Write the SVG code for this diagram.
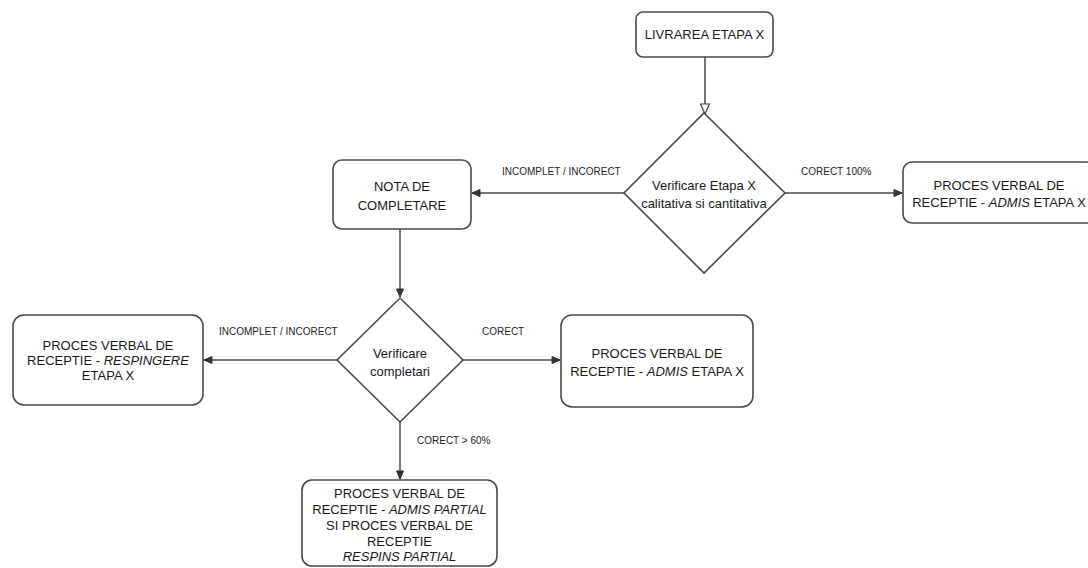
<svg xmlns="http://www.w3.org/2000/svg" width="1088" height="568" viewBox="0 0 1088 568">
<defs>
<marker id="arr" markerUnits="userSpaceOnUse" markerWidth="10" markerHeight="10" viewBox="0 0 10 10" refX="9" refY="5" orient="auto"><path d="M1,1.5 L9,5 L1,8.5 Z" fill="#333" stroke="#333" stroke-width="1"/></marker>
<marker id="open" markerUnits="userSpaceOnUse" markerWidth="12" markerHeight="12" viewBox="0 0 12 12" refX="11" refY="6" orient="auto"><path d="M1,1.5 L11,6 L1,10.5 Z" fill="#fff" stroke="#444" stroke-width="1.2"/></marker>
<style>
.box{fill:#fff;stroke:#4a4a4a;stroke-width:1.6}
.t{font-family:"Liberation Sans",Arial,sans-serif;font-size:13px;fill:#1a1a1a;text-anchor:middle}
.lbl{font-family:"Liberation Sans",Arial,sans-serif;font-size:10px;fill:#222}
.c{fill:none;stroke:#4a4a4a;stroke-width:1.5}
</style>
</defs>
<rect width="1088" height="568" fill="#fff"/>
<g id="connectors">
<line class="c" x1="705" y1="57" x2="705" y2="114" marker-end="url(#open)"/>
<line class="c" x1="624" y1="193" x2="472" y2="193" marker-end="url(#arr)"/>
<line class="c" x1="785" y1="193" x2="902" y2="193" marker-end="url(#arr)"/>
<line class="c" x1="400" y1="229" x2="400" y2="297" marker-end="url(#arr)"/>
<line class="c" x1="337" y1="360" x2="204" y2="360" marker-end="url(#arr)"/>
<line class="c" x1="463" y1="360" x2="560" y2="360" marker-end="url(#arr)"/>
<line class="c" x1="400" y1="422" x2="400" y2="479" marker-end="url(#arr)"/>
<text class="lbl" x="502" y="175">INCOMPLET / INCORECT</text>
<text class="lbl" x="801" y="175">CORECT 100%</text>
<text class="lbl" x="219" y="335">INCOMPLET / INCORECT</text>
<text class="lbl" x="482" y="335">CORECT</text>
<text class="lbl" x="417" y="444">CORECT &gt; 60%</text>
</g>
<g id="livrarea">
<rect class="box" x="636" y="12" width="137" height="45" rx="7"/>
<text class="t" x="704.5" y="39">LIVRAREA ETAPA X</text>
</g>
<g id="verificare-etapa">
<polygon class="box" points="704,113 785,193 704,273 624,193"/>
<text class="t" x="704" y="190">Verificare Etapa X</text>
<text class="t" x="704" y="208">calitativa si cantitativa</text>
</g>
<g id="nota">
<rect class="box" x="333" y="160" width="138" height="69" rx="9"/>
<text class="t" x="402" y="191">NOTA DE</text>
<text class="t" x="402" y="210">COMPLETARE</text>
</g>
<g id="admis-top">
<rect class="box" x="903" y="162" width="192" height="61" rx="9"/>
<text class="t" x="999" y="190">PROCES VERBAL DE</text>
<text class="t" x="999" y="207">RECEPTIE - <tspan font-style="italic">ADMIS</tspan> ETAPA X</text>
</g>
<g id="verificare-completari">
<polygon class="box" points="400,298 463,360 400,422 337,360"/>
<text class="t" x="400" y="358">Verificare</text>
<text class="t" x="400" y="376">completari</text>
</g>
<g id="respingere">
<rect class="box" x="13" y="315" width="190" height="90" rx="11"/>
<text class="t" x="108" y="350">PROCES VERBAL DE</text>
<text class="t" x="108" y="365">RECEPTIE - <tspan font-style="italic">RESPINGERE</tspan></text>
<text class="t" x="108" y="380">ETAPA X</text>
</g>
<g id="admis-mid">
<rect class="box" x="561" y="315" width="192" height="92" rx="11"/>
<text class="t" x="657" y="358">PROCES VERBAL DE</text>
<text class="t" x="657" y="376">RECEPTIE - <tspan font-style="italic">ADMIS</tspan> ETAPA X</text>
</g>
<g id="partial">
<rect class="box" x="302" y="480" width="195" height="86" rx="10"/>
<text class="t" x="399.5" y="498">PROCES VERBAL DE</text>
<text class="t" x="399.5" y="514">RECEPTIE - <tspan font-style="italic">ADMIS PARTIAL</tspan></text>
<text class="t" x="399.5" y="530">SI PROCES VERBAL DE</text>
<text class="t" x="399.5" y="546">RECEPTIE</text>
<text class="t" x="399.5" y="561" font-style="italic">RESPINS PARTIAL</text>
</g>
</svg>
